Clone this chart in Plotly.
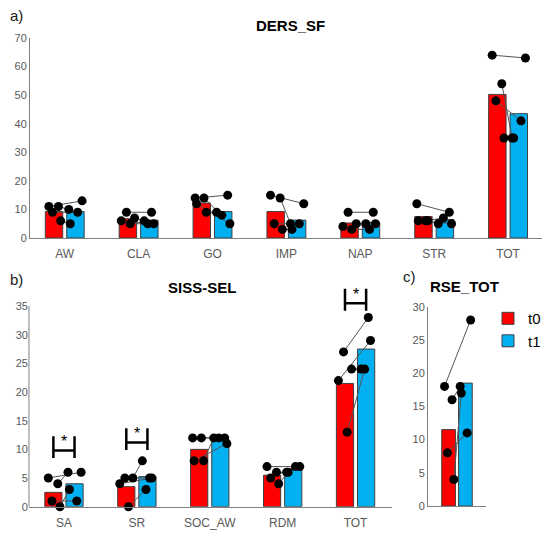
import plotly.graph_objects as go

# ==========================================
# DATA (4 subjects, t0 / t1)
# ==========================================
DERS_CATS = ["AW", "CLA", "GO", "IMP", "NAP", "STR", "TOT"]
DERS_T0 = [[11, 11, 9, 6], [9, 7, 6, 5], [14, 14, 12, 9], [15, 14, 5, 3],
           [9, 5, 4, 3], [12, 6, 6, 6], [64, 54, 48, 35]]
DERS_T1 = [[13, 10, 9, 5], [9, 6, 5, 5], [15, 8, 5, 9], [12, 5, 5, 3],
           [9, 5, 5, 3], [9, 7, 5, 5], [63, 35, 41, 35]]

SISS_CATS = ["SA", "SR", "SOC_AW", "RDM", "TOT"]
SISS_T0 = [[5, 4, 1, 0], [5, 5, 4, 0], [12, 12, 8, 8], [7, 6, 5, 4], [27, 24, 22, 13]]
SISS_T1 = [[6, 6, 1, 3], [5, 8, 5, 3], [12, 12, 11, 12], [7, 6, 7, 6], [33, 24, 29, 24]]
SISS_SIG = ["SA", "SR", "TOT"]
SISS_SIG_LEVEL = [9.8, 11.2, 35.5]

RSE_CATS = ["RSE_TOT"]
RSE_T0 = [[18, 16, 8, 4]]
RSE_T1 = [[28, 18, 11, 17]]

# ==========================================
# STYLE
# ==========================================
RED = "#FF0000"
BLUE = "#00B0F0"
GREY = "#808080"
FONT = "Liberation Sans, Arial"
TICK_FONT = dict(family=FONT, size=11, color="#595959")
HALF = 0.145     # bar centre offset from category
BAR_W = 0.236
JIT = [-0.07, 0.06, -0.02, 0.09, -0.09, 0.03]


def mean(v):
    return sum(v) / len(v)


def add_panel(fig, cats, t0, t1, xa, ya, show_legend=False):
    idx = list(range(len(cats)))
    fig.add_trace(go.Bar(x=idx, y=[mean(v) for v in t0], name="t0", width=BAR_W, offset=-HALF - BAR_W / 2,
                         marker=dict(color=RED, line=dict(color="#404040", width=1)),
                         xaxis=xa, yaxis=ya, showlegend=show_legend))
    fig.add_trace(go.Bar(x=idx, y=[mean(v) for v in t1], name="t1", width=BAR_W, offset=HALF - BAR_W / 2,
                         marker=dict(color=BLUE, line=dict(color="#404040", width=1)),
                         xaxis=xa, yaxis=ya, showlegend=show_legend))

    # paired points
    lx, ly, px, py = [], [], [], []
    for i in idx:
        for k, (a, b) in enumerate(zip(t0[i], t1[i])):
            x0 = i - HALF + JIT[(k + 2 * i) % len(JIT)]
            x1 = i + HALF + JIT[(k + 2 * i + 3) % len(JIT)]
            lx += [x0, x1, None]
            ly += [a, b, None]
            px += [x0, x1]
            py += [a, b]
    fig.add_trace(go.Scatter(x=lx, y=ly, mode="lines", line=dict(color="#555555", width=1),
                             xaxis=xa, yaxis=ya, showlegend=False, hoverinfo="skip"))
    fig.add_trace(go.Scatter(x=px, y=py, mode="markers", marker=dict(color="black", size=9),
                             xaxis=xa, yaxis=ya, showlegend=False, cliponaxis=False))


fig = go.Figure()
add_panel(fig, DERS_CATS, DERS_T0, DERS_T1, "x", "y")
add_panel(fig, SISS_CATS, SISS_T0, SISS_T1, "x2", "y2")
add_panel(fig, RSE_CATS, RSE_T0, RSE_T1, "x3", "y3", show_legend=True)

# significance brackets (panel b)
bx, by = [], []
for cat, lvl in zip(SISS_SIG, SISS_SIG_LEVEL):
    i = SISS_CATS.index(cat)
    lo, hi = lvl - 1.3, lvl + 2.5
    bx += [i - HALF, i - HALF, None, i + HALF, i + HALF, None, i - HALF, i + HALF, None]
    by += [lo, hi, None, lo, hi, None, lvl, lvl, None]
    fig.add_annotation(x=i, y=lvl + 1.5, xref="x2", yref="y2", text="*", showarrow=False,
                       yanchor="middle", font=dict(family=FONT, size=16, color="black"))
fig.add_trace(go.Scatter(x=bx, y=by, mode="lines", line=dict(color="black", width=2.5),
                         xaxis="x2", yaxis="y2", showlegend=False, hoverinfo="skip"))

# the page body adds an 8px offset, so the figure is drawn 8px smaller
X2_DOMAIN = [0.0387, 0.7085]
# panel b y axis line only up to 35
fig.add_shape(type="line", xref="paper", yref="y2", x0=X2_DOMAIN[0], x1=X2_DOMAIN[0], y0=0, y1=35,
              line=dict(color=GREY, width=1), layer="above")

xcommon = dict(showline=True, linecolor=GREY, linewidth=1, showgrid=False, zeroline=False,
               ticks="", ticklabelstandoff=5, tickfont=dict(family=FONT, size=12, color="#595959"))
ycommon = dict(showline=True, linecolor=GREY, linewidth=1, showgrid=False, zeroline=False,
               ticks="", tickfont=TICK_FONT)

fig.update_layout(
    width=542, height=527,
    margin=dict(l=0, r=0, t=0, b=0, autoexpand=False),
    plot_bgcolor="white", paper_bgcolor="white",
    xaxis=dict(xcommon, domain=[0.0406, 0.9908], range=[-0.47, 6.5], anchor="y",
               tickvals=list(range(len(DERS_CATS))), ticktext=DERS_CATS),
    yaxis=dict(ycommon, domain=[0.5636, 0.9431], range=[0, 70], anchor="x",
               tickvals=list(range(0, 71, 10))),
    xaxis2=dict(xcommon, domain=X2_DOMAIN, range=[-0.48, 4.5], anchor="y2",
                tickvals=list(range(len(SISS_CATS))), ticktext=SISS_CATS),
    yaxis2=dict(ycommon, showline=False, domain=[0.0537, 0.4725], range=[0, 38.5], anchor="x2",
                tickvals=list(range(0, 36, 5))),
    xaxis3=dict(xcommon, domain=[0.7749, 0.8819], range=[-0.5, 0.5], anchor="y3",
                tickvals=[], showticklabels=False),
    yaxis3=dict(ycommon, domain=[0.0550, 0.4332], range=[0, 30], anchor="x3",
                tickvals=list(range(0, 31, 5))),
    legend=dict(x=0.8856, y=0.442, xanchor="left", yanchor="top", bgcolor="rgba(0,0,0,0)",
                font=dict(family=FONT, size=15, color="black")),
    showlegend=True,
)

# titles and panel labels
TITLE_FONT = dict(family=FONT, size=15, color="black")
LABEL_FONT = dict(family=FONT, size=15, color="#202020")
for txt, x, y in [("<b>DERS_SF</b>", 0.5221, 0.9677), ("<b>SISS-SEL</b>", 0.358, 0.4687),
                  ("<b>RSE_TOT</b>", 0.843, 0.4706)]:
    fig.add_annotation(x=x, y=y, xref="paper", yref="paper", text=txt, showarrow=False,
                       font=TITLE_FONT, xanchor="center", yanchor="middle")
for txt, x, y in [("a)", 0.0, 0.985), ("b)", 0.0, 0.4839), ("c)", 0.725, 0.4896)]:
    fig.add_annotation(x=x, y=y, xref="paper", yref="paper", text=txt, showarrow=False,
                       font=LABEL_FONT, xanchor="left", yanchor="middle")

fig.write_html("out.html")
